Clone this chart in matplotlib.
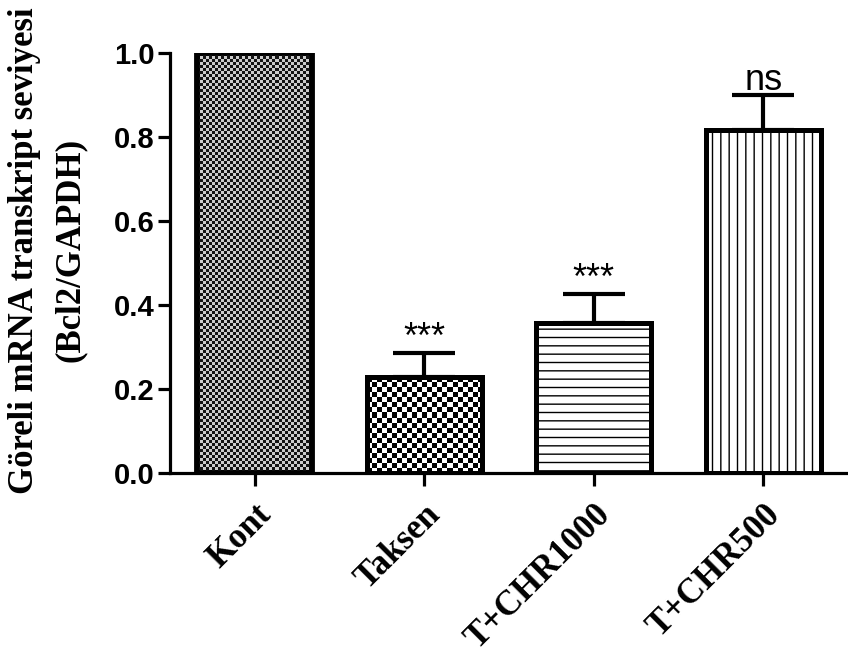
import numpy as np
import matplotlib
matplotlib.use('Agg')
import matplotlib.pyplot as plt

# data
groups = ['Kont', 'Taksen', 'T+CHR1000', 'T+CHR500']
means = [1.0, 0.229, 0.357, 0.817]
sem = [0.0, 0.057, 0.070, 0.082]
signif = ['', '***', '***', 'ns']
yticks = [0.0, 0.2, 0.4, 0.6, 0.8, 1.0]

SERIF = 'Liberation Serif'
SANS = 'Liberation Sans'

fig = plt.figure(figsize=(8.48, 6.57), dpi=100)
ax = fig.add_axes([170 / 848, 184 / 657, 678 / 848, 420 / 657])

x = np.arange(len(groups))
barw = 0.68
bars = ax.bar(x, means, width=barw, color='none', edgecolor='black',
              linewidth=3.6, zorder=3)
bars[0].set_linewidth(4.2)

ax.set_xlim(-0.5, 3.5)
ax.set_ylim(0, 1.0)

# pixels per data unit, used to size the checker fills
pxx = 678 / 4.0
pxy = 420 / 1.0


def checker(bar, cell_px, lo, hi):
    # checkerboard image clipped to the bar
    x0, y0 = bar.get_x(), bar.get_y()
    w, h = bar.get_width(), bar.get_height()
    nx = int(np.ceil(w * pxx / cell_px))
    ny = int(np.ceil(h * pxy / cell_px))
    board = np.add.outer(np.arange(ny), np.arange(nx)) % 2
    img = np.where(board == 0, lo, hi)
    im = ax.imshow(img, cmap='gray', vmin=0, vmax=1, interpolation='nearest',
                   extent=[x0, x0 + nx * cell_px / pxx, y0, y0 + ny * cell_px / pxy],
                   origin='lower', aspect='auto', zorder=2)
    im.set_clip_path(bar)


checker(bars[0], 3.0, 0.08, 0.8)
checker(bars[1], 5.0, 0.0, 1.0)
plt.rcParams['hatch.linewidth'] = 1.2
bars[2].set_hatch('--')
bars[3].set_hatch('||')
ax.set_xlim(-0.5, 3.5)
ax.set_ylim(0, 1.0)

# upper-only error bars
for i in range(len(groups)):
    if sem[i] > 0:
        ax.errorbar(x[i], means[i], yerr=[[0], [sem[i]]], fmt='none',
                    ecolor='black', elinewidth=3.0, capsize=22, capthick=3.0,
                    zorder=4)
    if signif[i]:
        ax.text(x[i], means[i] + sem[i] + 0.012, signif[i], ha='center',
                va='baseline', fontsize=26, family=SANS, zorder=5)

ax.spines['top'].set_visible(False)
ax.spines['right'].set_visible(False)
ax.spines['left'].set_linewidth(2.3)
ax.spines['bottom'].set_linewidth(2.3)

ax.set_yticks(yticks)
ax.set_yticklabels(['%.1f' % t for t in yticks], fontsize=21,
                   fontweight='bold', family=SANS)
ax.tick_params(axis='y', length=9, width=2.3, pad=2)
ax.set_xticks(x)
ax.set_xticklabels(groups, rotation=45, ha='right', va='top',
                   rotation_mode='anchor', fontsize=25, fontweight='bold',
                   family=SERIF)
ax.tick_params(axis='x', length=9, width=2.3, pad=9)

fig.text(25 / 848, 1 - 251 / 657, 'Göreli mRNA transkript seviyesi',
         rotation=90, ha='center', va='center', fontsize=25,
         fontweight='bold', family=SERIF)
fig.text(70 / 848, 1 - 250 / 657, '(Bcl2/GAPDH)', rotation=90,
         ha='center', va='center', fontsize=25, fontweight='bold',
         family=SERIF)

fig.savefig('out.png', dpi=100, facecolor='white')
